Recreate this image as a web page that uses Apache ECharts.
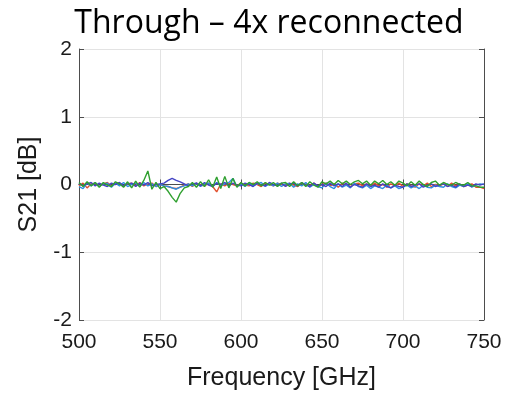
<!DOCTYPE html>
<html>
<head>
<meta charset="utf-8">
<script src="https://cdn.jsdelivr.net/npm/echarts@6/dist/echarts.min.js"></script>
<style>
  html, body { margin: 0; padding: 0; background: #fff; }
  #canvas { width: 509px; height: 396px; }
</style>
</head>
<body>
<div id="canvas"></div>
<script>
// frequency grid: 500 .. 750 GHz, 2.5 GHz step
var freqStart = 500;
var freqStep = 2.5;
var xTicks = [500, 550, 600, 650, 700, 750];
var yTicks = [-2, -1, 0, 1, 2];

// S21 [dB] for the four reconnections
var s21Red = [
  -0.02, 0.02, -0.05, 0.01, 0.02, -0.03, 0.01, 0.03, -0.02, 0.01,
  0.02, -0.03, 0.01, 0.02, -0.02, 0.03, -0.02, 0.01, 0.02, -0.03,
  0.00, -0.02, -0.03, -0.05, -0.06, -0.04, -0.01, 0.01, -0.03, 0.02,
  -0.01, -0.02, 0.02, -0.03, -0.11, 0.01, -0.02, 0.02, 0.00, -0.02,
  0.02, -0.01, -0.02, 0.02, 0.00, -0.03, 0.02, 0.00, -0.02, 0.02,
  0.00, -0.02, 0.02, -0.01, -0.03, 0.02, 0.00, -0.02, 0.02, -0.03,
  0.00, 0.02, -0.02, 0.01, -0.04, 0.02, -0.01, -0.03, 0.01, 0.02,
  -0.02, 0.01, -0.03, 0.02, -0.02, 0.00, -0.04, 0.01, -0.02, 0.02,
  -0.03, 0.01, -0.02, -0.04, 0.01, -0.02, 0.02, -0.03, 0.00, -0.02,
  0.01, -0.03, 0.02, -0.02, 0.00, -0.03, -0.01, 0.01, -0.04, -0.04,
  -0.06
];
var s21LightBlue = [
  -0.03, -0.06, 0.02, -0.02, 0.03, -0.03, 0.01, 0.02, -0.04, 0.02,
  -0.02, 0.03, -0.03, 0.00, 0.02, -0.03, 0.03, -0.02, 0.01, -0.03,
  0.00, -0.02, -0.03, -0.05, -0.07, -0.04, -0.02, 0.01, -0.02, 0.02,
  -0.03, 0.01, 0.02, -0.03, 0.03, -0.02, 0.01, 0.03, 0.09, -0.03,
  0.01, -0.03, 0.02, -0.02, 0.01, 0.03, -0.03, 0.01, -0.02, 0.02,
  -0.03, 0.01, 0.02, -0.04, 0.01, -0.02, 0.03, -0.04, 0.00, -0.03,
  -0.05, 0.02, -0.03, -0.06, 0.01, -0.04, -0.01, -0.05, 0.02, -0.03,
  -0.05, -0.01, -0.06, -0.02, -0.04, -0.06, -0.01, -0.05, -0.02, -0.06,
  -0.04, -0.01, -0.05, -0.02, -0.06, -0.01, -0.04, -0.05, -0.01, -0.03,
  -0.04, 0.01, -0.03, -0.05, -0.01, -0.03, 0.01, -0.04, -0.01, 0.01,
  0.00
];
var s21DarkBlue = [
  0.02, -0.02, 0.01, 0.03, -0.02, 0.02, -0.01, -0.03, 0.02, 0.00,
  0.03, -0.02, 0.01, 0.02, -0.03, 0.02, -0.01, 0.03, -0.02, 0.00,
  0.01, 0.02, 0.06, 0.09, 0.06, 0.04, 0.01, -0.02, 0.01, 0.02,
  -0.02, 0.03, -0.01, -0.03, 0.02, 0.00, 0.03, -0.02, 0.02, -0.01,
  -0.02, 0.02, 0.00, -0.03, 0.02, -0.01, -0.02, 0.03, 0.00, -0.02,
  0.02, -0.03, 0.01, 0.02, -0.02, 0.03, -0.01, -0.03, 0.02, -0.02,
  0.00, -0.03, 0.02, -0.02, 0.01, -0.03, 0.02, -0.04, 0.00, -0.02,
  -0.04, 0.01, -0.03, -0.01, -0.04, 0.01, -0.03, -0.05, -0.01, -0.03,
  -0.04, 0.01, -0.03, -0.01, 0.01, -0.04, -0.01, 0.01, -0.03, -0.01,
  0.01, -0.03, -0.01, -0.04, 0.01, -0.03, -0.01, -0.03, 0.01, -0.01,
  0.01
];
var s21Green = [
  0.03, -0.03, 0.04, -0.02, 0.03, -0.04, 0.03, -0.01, -0.03, 0.04,
  0.01, -0.04, 0.04, -0.05, 0.05, -0.04, 0.06, 0.20, -0.07, 0.03,
  -0.06, -0.03, -0.10, -0.19, -0.26, -0.13, -0.05, -0.03, 0.03, -0.04,
  0.04, -0.03, 0.07, -0.04, 0.11, -0.06, 0.12, -0.05, 0.09, -0.04,
  0.03, -0.02, 0.03, 0.00, 0.04, -0.02, 0.03, -0.01, 0.03, -0.03,
  0.02, 0.03, -0.03, 0.04, -0.02, 0.03, -0.03, 0.04, -0.01, -0.04,
  0.04, 0.01, 0.05, 0.00, 0.06, 0.01, 0.05, 0.00, 0.04, 0.06,
  0.01, 0.05, -0.01, 0.05, 0.01, 0.06, 0.00, 0.04, -0.01, 0.05,
  0.02, -0.02, 0.04, -0.01, 0.05, 0.00, -0.03, 0.03, 0.05, -0.01,
  0.03, 0.00, -0.01, 0.03, 0.00, -0.01, 0.03, -0.02, -0.02, -0.04,
  -0.04
];

var toPairs = function(vals) {
    var out = [];
    for (var i = 0; i < vals.length; i++) {
        out.push([freqStart + i * freqStep, vals[i]]);
    }
    return out;
};

var labelFont = {fontFamily: 'Liberation Sans', fontSize: 21, color: '#1a1a1a'};
var nameFont = {fontFamily: 'Liberation Sans', fontSize: 25, color: '#1a1a1a'};
var boxLine = {show: true, lineStyle: {color: '#4d4d4d', width: 1}};
var inTick = {show: true, inside: true, length: 5, lineStyle: {color: '#4d4d4d'}};
var grid = {show: true, lineStyle: {color: '#e3e3e3', width: 1}};

var lineSeries = function(name, vals, color) {
    return {
        name: name,
        type: 'line',
        data: toPairs(vals),
        showSymbol: false,
        symbol: 'none',
        lineStyle: {color: color, width: 1.4},
        animation: false
    };
};

var myChart = echarts.init(document.getElementById('canvas'));
var option = {
    backgroundColor: '#fff',
    animation: false,
    title: {
        text: 'Through \u2013 4x reconnected',
        left: 264,
        top: 3,
        textAlign: 'center',
        textStyle: {fontFamily: 'Open Sans', fontSize: 32, fontWeight: 'normal', color: '#000'}
    },
    grid: {left: 79, right: 25, top: 49, bottom: 75},
    xAxis: [{
        type: 'value',
        min: 500, max: 750, interval: 50,
        axisLine: boxLine,
        axisTick: inTick,
        splitLine: grid,
        axisLabel: Object.assign({margin: 12}, labelFont),
        name: 'Frequency [GHz]',
        nameLocation: 'middle',
        nameGap: 46,
        nameTextStyle: nameFont
    }, {
        type: 'value',
        position: 'top',
        min: 500, max: 750, interval: 50,
        axisLine: boxLine,
        axisTick: inTick,
        axisLabel: {show: false},
        splitLine: {show: false}
    }],
    yAxis: [{
        type: 'value',
        min: -2, max: 2, interval: 1,
        axisLine: boxLine,
        axisTick: inTick,
        splitLine: grid,
        axisLabel: Object.assign({margin: 7}, labelFont),
        name: 'S21 [dB]',
        nameLocation: 'middle',
        nameGap: 37,
        nameRotate: 90,
        nameTextStyle: nameFont
    }, {
        type: 'value',
        position: 'right',
        min: -2, max: 2, interval: 1,
        axisLine: boxLine,
        axisTick: inTick,
        axisLabel: {show: false},
        splitLine: {show: false}
    }],
    series: [
        lineSeries('red', s21Red, '#e2502e'),
        lineSeries('light blue', s21LightBlue, '#2f8fe0'),
        lineSeries('dark blue', s21DarkBlue, '#4444c4'),
        lineSeries('green', s21Green, '#2fa02f')
    ]
};
myChart.setOption(option);
</script>
</body>
</html>
